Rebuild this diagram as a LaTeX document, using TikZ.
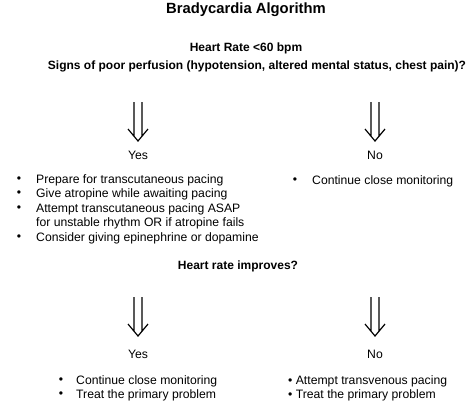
\documentclass[tikz,border=0pt]{standalone}
\usepackage{fontspec}
\setmainfont{Liberation Sans}
\usetikzlibrary{calc}
\tikzset{
  body/.style={inner sep=0pt, font=\fontsize{12.2}{14}\selectfont},
  bodyw/.style={body, anchor=west},
  head/.style={inner sep=0pt, font=\fontsize{12}{14}\selectfont\bfseries},
  ttl/.style={inner sep=0pt, font=\fontsize{14.8}{17}\selectfont\bfseries},
  bigdown/.style={line width=1.2pt, to path={
    ($(\tikztostart)+(-4,0)$) -- ($(\tikztotarget)+(-4,-5)$)
    ($(\tikztostart)+(4,0)$) -- ($(\tikztotarget)+(4,-5)$)
    ($(\tikztotarget)+(-10,-12)$) -- (\tikztotarget) -- ($(\tikztotarget)+(10,-12)$)}}
}
\begin{document}
\begin{tikzpicture}[x=1pt,y=-1pt]
\useasboundingbox (0,0) rectangle (473,408);
\fill[white] (0,0) rectangle (473,408);
\node[ttl] (title) at (246,10) {Bradycardia Algorithm};
\node[head] (hr) at (246,48) {Heart Rate <60 bpm};
\node[head] (q1) at (257,66) {Signs of poor perfusion (hypotension, altered mental status, chest pain)?};
% first arrows
\coordinate (a1s) at (138,102);
\coordinate (a1e) at (138,141);
\coordinate (a2s) at (375,102);
\coordinate (a2e) at (375,141);
\draw[bigdown] (a1s) to (a1e);
\draw[bigdown] (a2s) to (a2e);
\node[body] (yes1) at (138,155) {Yes};
\node[body] (no1) at (375,155) {No};
% yes bullets
\node[body] (b1) at (19,180) {•};
\node[bodyw] (l1) at (36,180) {Prepare for transcutaneous pacing};
\node[body] (b2) at (19,194) {•};
\node[bodyw] (l2) at (36,194) {Give atropine while awaiting pacing};
\node[body] (b3) at (19,209) {•};
\node[bodyw] (l3) at (36,209) {Attempt transcutaneous pacing ASAP};
\node[bodyw] (l3b) at (36,223) {for unstable rhythm OR if atropine fails};
\node[body] (b4) at (19,238) {•};
\node[bodyw] (l4) at (36,238) {Consider giving epinephrine or dopamine};
% no bullet
\node[body] (b5) at (295,181) {•};
\node[bodyw] (l5) at (312,181) {Continue close monitoring};
% second question
\node[head] (q2) at (238,266) {Heart rate improves?};
\coordinate (a3s) at (138,297);
\coordinate (a3e) at (138,336);
\coordinate (a4s) at (375,297);
\coordinate (a4e) at (375,336);
\draw[bigdown] (a3s) to (a3e);
\draw[bigdown] (a4s) to (a4e);
\node[body] (yes2) at (138,354) {Yes};
\node[body] (no2) at (375,354) {No};
\node[body] (b6) at (61,381) {•};
\node[bodyw] (l6) at (76,381) {Continue close monitoring};
\node[body] (b7) at (61,395) {•};
\node[bodyw] (l7) at (76,395) {Treat the primary problem};
\node[bodyw] (l8) at (288,381) {• Attempt transvenous pacing};
\node[bodyw] (l9) at (288,395) {• Treat the primary problem};
\end{tikzpicture}
\end{document}
